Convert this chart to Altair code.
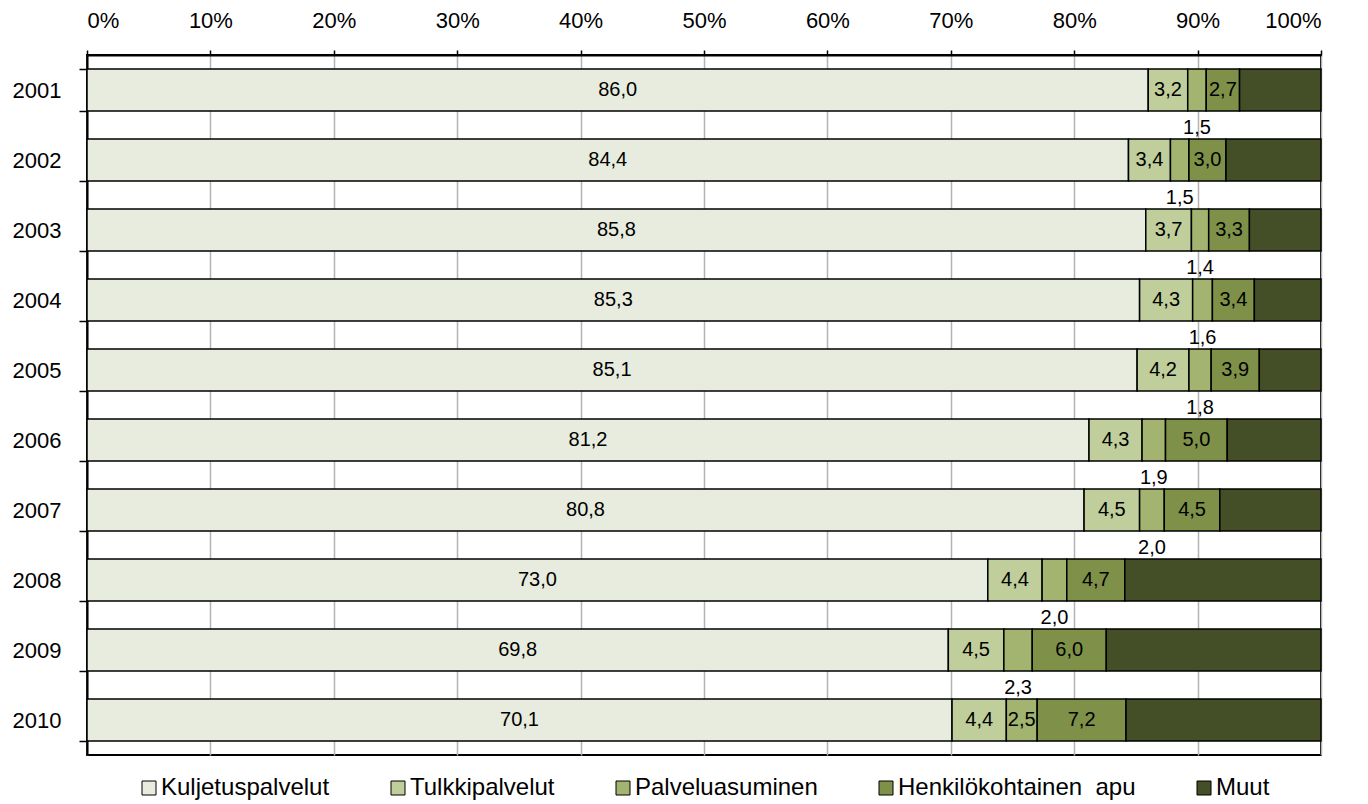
import altair as alt
import pandas as pd

years = ["2001", "2002", "2003", "2004", "2005", "2006", "2007", "2008", "2009", "2010"]
categories = ["Kuljetuspalvelut", "Tulkkipalvelut", "Palveluasuminen",
              "Henkilökohtainen\u00a0 apu", "Muut"]
colors = ["#E8ECDE", "#BFCE9A", "#A2B46F", "#7F9148", "#454F27"]

kuljetus = [86.0, 84.4, 85.8, 85.3, 85.1, 81.2, 80.8, 73.0, 69.8, 70.1]
tulkki = [3.2, 3.4, 3.7, 4.3, 4.2, 4.3, 4.5, 4.4, 4.5, 4.4]
palvelu = [1.5, 1.5, 1.4, 1.6, 1.8, 1.9, 2.0, 2.0, 2.3, 2.5]
henk = [2.7, 3.0, 3.3, 3.4, 3.9, 5.0, 4.5, 4.7, 6.0, 7.2]
muut = [6.6, 7.7, 5.8, 5.4, 5.0, 7.6, 8.2, 15.9, 17.4, 15.8]

series = [kuljetus, tulkki, palvelu, henk, muut]
rows = []
for ci, (cat, vals) in enumerate(zip(categories, series)):
    for y, v in zip(years, vals):
        rows.append({
            "year": y,
            "cat": cat,
            "ord": ci,
            "value": v,
            "label": f"{v:.1f}".replace(".", ","),
            "shown": cat != "Muut",
            "below": cat == "Palveluasuminen" and v < 2.4,
        })
df = pd.DataFrame(rows)

FONT = "Liberation Sans"

xaxis = alt.Axis(orient="top", format=".0%",
                 values=[i / 10 for i in range(11)],
                 labelFontSize=22, labelColor="black",
                 tickSize=5, tickColor="black", tickWidth=1.5,
                 domainColor="black", domainWidth=2,
                 grid=True, gridColor="#B4B4B4", gridWidth=1.5,
                 labelPadding=18)
xscale = alt.Scale(domain=[0, 1])

yaxis = alt.Axis(labelFontSize=22, labelColor="black", tickBand="extent",
                 tickSize=8, tickColor="black", tickWidth=1.5,
                 domainColor="black", domainWidth=2, labelPadding=18,
                 grid=False)
yscale = alt.Scale(paddingInner=0.4, paddingOuter=0.2)

bars = alt.Chart(df).mark_bar(stroke="black", strokeWidth=1.5).encode(
    y=alt.Y("year:N", sort=years, title=None, scale=yscale, axis=yaxis),
    x=alt.X("value:Q", stack="normalize", title=None, scale=xscale, axis=xaxis),
    color=alt.Color("cat:N", sort=categories,
                    scale=alt.Scale(domain=categories, range=colors),
                    legend=alt.Legend(title=None, orient="none", direction="horizontal",
                                      legendX=50, legendY=721,
                                      symbolType="square", symbolSize=196,
                                      symbolStrokeColor="black", symbolStrokeWidth=1,
                                      labelFontSize=24, labelColor="black",
                                      labelLimit=1000,
                                      columnPadding=56, labelOffset=0,
                                      columns=5)),
    order=alt.Order("ord:Q"),
)

stacked = alt.Chart(df).transform_stack(
    stack="value", as_=["x0", "x1"], groupby=["year"],
    sort=[alt.SortField("ord", order="ascending")], offset="normalize"
).transform_calculate(mid="(datum.x0 + datum.x1) / 2").transform_filter("datum.shown")

inside = stacked.transform_filter("!datum.below").mark_text(
    fontSize=20, color="black", font=FONT
).encode(
    x=alt.X("mid:Q", title=None, scale=xscale, axis=xaxis),
    y=alt.Y("year:N", sort=years, title=None, scale=yscale, axis=yaxis),
    text="label:N")

below = stacked.transform_filter("datum.below").mark_text(
    fontSize=20, color="black", font=FONT, dy=38
).encode(
    x=alt.X("mid:Q", title=None, scale=xscale, axis=xaxis),
    y=alt.Y("year:N", sort=years, title=None, scale=yscale, axis=yaxis),
    text="label:N")

chart = alt.layer(bars, inside, below).properties(
    width=1234, height=700,
    padding={"left": 4, "top": 1, "right": 10, "bottom": 0},
).configure(font=FONT).configure_view(stroke="black", strokeWidth=2)

chart.save("out.html", embed_options={"renderer": "svg", "actions": False})
